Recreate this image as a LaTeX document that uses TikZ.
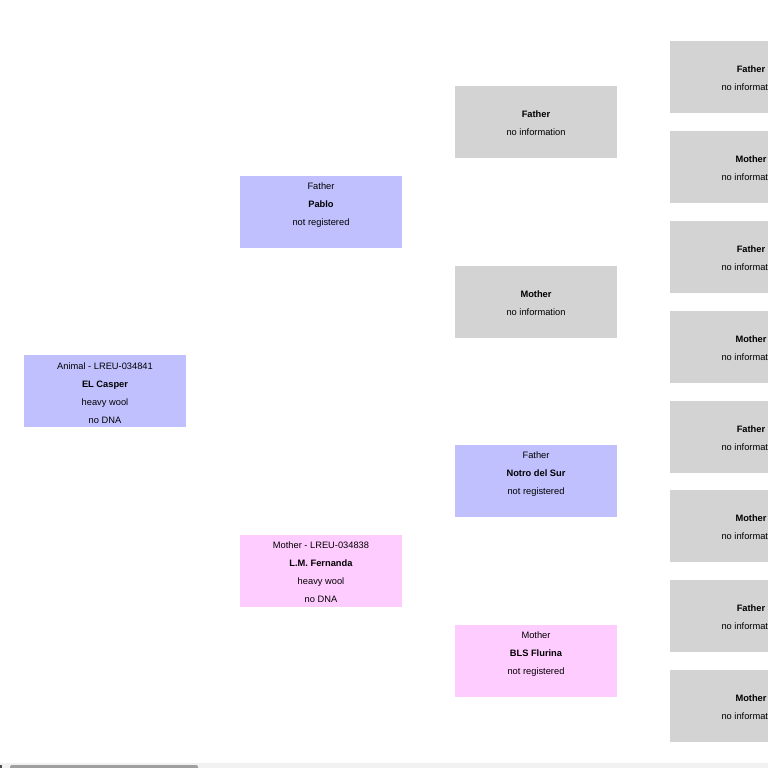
\documentclass[tikz,border=0pt]{standalone}
\usepackage{fontspec}
\setmainfont{Liberation Sans}
\definecolor{malebox}{RGB}{192,192,255}
\definecolor{femalebox}{RGB}{255,204,255}
\definecolor{unknownbox}{RGB}{211,211,211}
\definecolor{scrolltrack}{RGB}{241,241,241}
\definecolor{scrollthumb}{RGB}{160,160,160}
\tikzset{
  card/.style={rectangle, draw=none, inner sep=0pt, outer sep=0pt, minimum width=162pt, minimum height=72pt, anchor=north west},
  male/.style={card, fill=malebox},
  female/.style={card, fill=femalebox},
  unknown/.style={card, fill=unknownbox},
  cardtext/.style={inner sep=0pt, align=center, font=\fontsize{9.3}{18}\selectfont, text=black, yshift=-0.8pt}
}
\begin{document}
\begin{tikzpicture}[x=1pt,y=-1pt]
\useasboundingbox (0,0) rectangle (768,768);
\fill[white] (0,0) rectangle (768,768);
\begin{scope}
\clip (0,0) rectangle (768,768);
% column 1
\node[male] (animal) at (24,355) {};
\node[cardtext] (animalt) at (105,392) {\strut Animal - LREU-034841\\\textbf{EL Casper}\\heavy wool\\no DNA\strut};
% column 2
\node[male] (pablo) at (240,176) {};
\node[cardtext] (pablot) at (321,203) {\strut Father\\\textbf{Pablo}\\not registered\strut};
\node[female] (fernanda) at (240,535) {};
\node[cardtext] (fernandat) at (321,571) {\strut Mother - LREU-034838\\\textbf{L.M. Fernanda}\\heavy wool\\no DNA\strut};
% column 3
\node[unknown] (ppf) at (455,86) {};
\node[cardtext] (ppft) at (536,122) {\strut\textbf{Father}\\no information\strut};
\node[unknown] (ppm) at (455,266) {};
\node[cardtext] (ppmt) at (536,302) {\strut\textbf{Mother}\\no information\strut};
\node[male] (notro) at (455,445) {};
\node[cardtext] (notrot) at (536,472) {\strut Father\\\textbf{Notro del Sur}\\not registered\strut};
\node[female] (bls) at (455,625) {};
\node[cardtext] (blst) at (536,652) {\strut Mother\\\textbf{BLS Flurina}\\not registered\strut};
% column 4
\foreach \i/\y/\lab in {1/41/Father,2/131/Mother,3/221/Father,4/311/Mother,5/401/Father,6/490/Mother,7/580/Father,8/670/Mother}{
  \node[unknown] (g\i) at (670,\y) {};
  \node[cardtext] (g\i t) at (751,\y+36) {\strut\textbf{\lab}\\no information\strut};
}
% scrollbar
\fill[scrolltrack] (0,763) rectangle (768,768);
\fill[scrollthumb, rounded corners=2pt] (10,765) rectangle (198,770);
\fill[black!70] (0,765) rectangle (1.5,768);
\end{scope}
\end{tikzpicture}
\end{document}
